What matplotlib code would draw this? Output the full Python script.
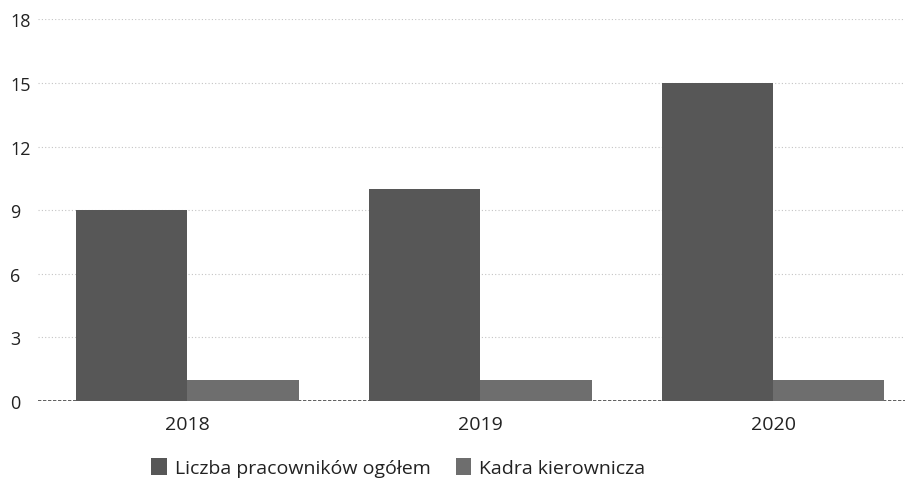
import numpy as np
import matplotlib.pyplot as plt

plt.rcParams['font.family'] = ['Open Sans', 'DejaVu Sans']

years = ['2018', '2019', '2020']
ogolem = [9, 10, 15]
kadra = [1, 1, 1]
yticks = [0, 3, 6, 9, 12, 15, 18]

fig = plt.figure(figsize=(9.05, 4.81), dpi=100)
ax = fig.add_axes([0.042, 0.164, 0.958, 0.794])

x = np.arange(len(years))
w = 0.38
ax.bar(x - w / 2, ogolem, w, color='#575757', label='Liczba pracowników ogółem', zorder=3)
ax.bar(x + w / 2, kadra, w, color='#6e6e6e', label='Kadra kierownicza', zorder=3)

ax.set_ylim(0, 18)
ax.set_xlim(-0.51, 2.45)
ax.set_yticks(yticks)
ax.set_xticks(x, years)
ax.grid(axis='y', color='#c4c4c4', linestyle=(0, (1, 2)), linewidth=0.8, zorder=0)
ax.axhline(0, color='#444444', linewidth=1.2, linestyle=(0, (2, 1)), zorder=2)
for s in ax.spines.values():
    s.set_visible(False)
ax.tick_params(axis='both', length=0, colors='#222222')
ax.tick_params(axis='y', pad=20, labelsize=13)
for lbl in ax.get_yticklabels():
    lbl.set_horizontalalignment('left')
ax.tick_params(axis='x', pad=10, labelsize=14)

fig.legend(loc='lower left', bbox_to_anchor=(0.148, -0.03), ncol=2, frameon=False,
           fontsize=14, handlelength=0.8, handleheight=1.0, handletextpad=0.4,
           columnspacing=1.3, labelcolor='#222222')

fig.savefig('out.png', dpi=100)
